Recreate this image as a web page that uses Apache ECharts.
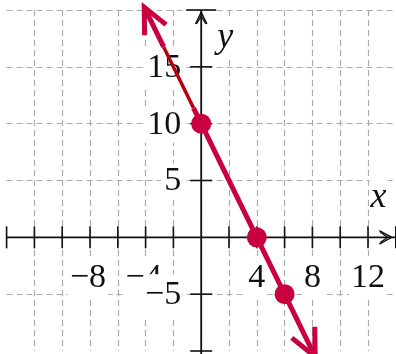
<!DOCTYPE html>
<html>
<head>
<meta charset="utf-8">
<style>
  html, body { margin: 0; padding: 0; background: #fff; }
  #chart { width: 396px; height: 354px; }
</style>
<script src="https://cdn.jsdelivr.net/npm/echarts@6/dist/echarts.min.js"></script>
</head>
<body>
<div id="chart"></div>
<script>
// Line y = -2.5x + 10, listed point by point (ends carry the arrowheads)
const lineX = [-4.1, 0, 4, 6, 8.2];
const lineY = [20.25, 10, 0, -5, -10.5];
// Stretch of the line drawn in a darker, thinner red
const darkX = [-2.7, -0.55];
const darkY = [16.75, 11.375];
// Plotted points
const pointX = [0, 4, 6];
const pointY = [10, 0, -5];
// Axis ticks and their labels
const xTickValues = [-14, -12, -10, -8, -6, -4, -2, 2, 4, 6, 8, 10, 12, 14];
const yTickValues = [20, 15, 10, 5, -5, -10];
const xLabelValues = [-8, -4, 4, 8, 12];
const xLabelTexts = ['\u22128', '\u22124', '4', '8', '12'];
const yLabelValues = [15, 10, 5, -5];
const yLabelTexts = ['15', '10', '5', '\u22125'];

const RED = '#c8003f';
const DARK = '#b3000f';
const FONT = '"Liberation Serif", "Times New Roman", serif';

function pairs(xs, ys) { return xs.map((x, i) => [x, ys[i]]); }

const upperPart = pairs([lineX[0], darkX[0]], [lineY[0], darkY[0]]);
const lowerPart = pairs([darkX[1]].concat(lineX.slice(1)), [darkY[1]].concat(lineY.slice(1)));

function chevron(tip, dir, len, ang, width, color) {
  // open arrowhead: two arms pointing back from the tip
  const back = Math.atan2(-dir[1], -dir[0]);
  const pts = [];
  [ang, -ang].forEach(a => {
    pts.push([tip[0] + len * Math.cos(back + a), tip[1] + len * Math.sin(back + a)]);
  });
  return {
    type: 'polyline',
    shape: { points: [pts[0], tip, pts[1]] },
    style: { stroke: color, lineWidth: width, fill: null, lineJoin: 'miter' }
  };
}

function renderFrame(params, api) {
  const c = (x, y) => api.coord([x, y]);
  const kids = [];
  const o = c(0, 0);
  const axisStyle = { stroke: '#111', lineWidth: 1.8 };
  // x axis
  const xl = c(-14, 0), xr = c(14, 0);
  kids.push({ type: 'line', shape: { x1: xl[0], y1: xl[1], x2: xr[0], y2: xr[1] }, style: axisStyle });
  // y axis
  const yt = c(0, 20), yb = c(0, -10.6);
  kids.push({ type: 'line', shape: { x1: yt[0], y1: yt[1], x2: yb[0], y2: yb[1] }, style: axisStyle });
  // crossing ticks
  xTickValues.forEach(v => {
    const p = c(v, 0);
    kids.push({ type: 'line', shape: { x1: p[0], y1: p[1] - 11, x2: p[0], y2: p[1] + 11 }, style: { stroke: '#111', lineWidth: 1.6 } });
  });
  yTickValues.forEach(v => {
    const p = c(0, v);
    const h = v === 20 ? 15 : 11;
    kids.push({ type: 'line', shape: { x1: p[0] - h, y1: p[1], x2: p[0] + h, y2: p[1] }, style: { stroke: '#111', lineWidth: 1.6 } });
  });
  // axis arrowheads
  const xa = c(13.7, 0);
  kids.push(chevron([xa[0], xa[1]], [1, 0], 14, 0.5, 1.5, '#111'));
  kids.push(chevron([xa[0] - 4, xa[1]], [1, 0], 9, 0.6, 1.3, '#111'));
  const ya = c(0, 19.8);
  kids.push(chevron([ya[0], ya[1]], [0, -1], 13, 0.45, 1.5, '#111'));
  kids.push(chevron([ya[0], ya[1] + 4], [0, -1], 9, 0.55, 1.3, '#111'));

  // x tick labels
  xLabelValues.forEach((v, i) => {
    const p = c(v, 0);
    kids.push({
      type: 'text',
      style: {
        text: xLabelTexts[i], x: p[0] - (v < 0 ? 2 : 0), y: p[1] + 41,
        align: 'center', verticalAlign: 'middle',
        fontFamily: FONT, fontSize: 34, fill: '#111',
        backgroundColor: '#fff', padding: [0, 2, 4, 2]
      }
    });
  });
  // y tick labels
  yLabelValues.forEach((v, i) => {
    const p = c(0, v);
    kids.push({
      type: 'text',
      style: {
        text: yLabelTexts[i], x: p[0] - 19, y: p[1] + 1,
        align: 'right', verticalAlign: 'middle',
        fontFamily: FONT, fontSize: 34, fill: '#111',
        backgroundColor: '#fff', padding: v < 0 ? [6, 1, 2, 1] : [1, 1, 1, 3]
      }
    });
  });
  // axis names
  kids.push({
    type: 'text',
    style: {
      text: 'x', x: c(12.75, 0)[0], y: o[1] - 40, align: 'center', verticalAlign: 'middle',
      fontFamily: FONT, fontSize: 36, fontStyle: 'italic', fill: '#111',
      backgroundColor: '#fff', padding: [0, 1, 0, 1]
    }
  });
  kids.push({
    type: 'text',
    style: {
      text: 'y', x: o[0] + 24, y: c(0, 20)[1] + 28, align: 'center', verticalAlign: 'middle',
      fontFamily: FONT, fontSize: 36, fontStyle: 'italic', fill: '#111',
      backgroundColor: '#fff', padding: [0, 1, 0, 1]
    }
  });
  return { type: 'group', children: kids };
}

function renderArrows(params, api) {
  const n = lineX.length;
  const tipA = api.coord([lineX[0], lineY[0]]);
  const nextA = api.coord([lineX[1], lineY[1]]);
  const tipB = api.coord([lineX[n - 1], lineY[n - 1]]);
  const prevB = api.coord([lineX[n - 2], lineY[n - 2]]);
  const dirA = [tipA[0] - nextA[0], tipA[1] - nextA[1]];
  const dirB = [tipB[0] - prevB[0], tipB[1] - prevB[1]];
  return {
    type: 'group',
    children: [
      chevron(tipA, dirA, 28, 0.44, 5, RED),
      chevron(tipB, dirB, 30, 0.44, 5, RED)
    ]
  };
}

const chart = echarts.init(document.getElementById('chart'), null, { renderer: 'canvas' });
const gridLine = { color: '#ababab', width: 1.2, type: [6, 4] };
chart.setOption({
  animation: false,
  backgroundColor: '#fff',
  grid: { left: 6.6, top: 10, width: 389.2, height: 341, outerBoundsMode: 'none', containLabel: false },
  xAxis: {
    type: 'value', min: -14, max: 14, interval: 2,
    axisLine: { show: false }, axisTick: { show: false }, axisLabel: { show: false },
    splitLine: { show: true, showMinLine: false, showMaxLine: false, lineStyle: gridLine }
  },
  yAxis: {
    type: 'value', min: -10, max: 20, interval: 5,
    axisLine: { show: false }, axisTick: { show: false }, axisLabel: { show: false },
    splitLine: { show: true, showMinLine: false, showMaxLine: true, lineStyle: gridLine }
  },
  series: [
    { type: 'custom', renderItem: renderFrame, data: [[0, 0]], clip: false, silent: true, z: 2 },
    {
      type: 'line', data: upperPart, symbol: 'none', z: 3, clip: false,
      lineStyle: { color: RED, width: 5 }
    },
    {
      type: 'line', data: pairs(darkX, darkY), symbol: 'none', z: 3, clip: false,
      lineStyle: { color: DARK, width: 3.5 }
    },
    {
      type: 'line', data: lowerPart, symbol: 'none', z: 3, clip: false,
      lineStyle: { color: RED, width: 5 }
    },
    { type: 'custom', renderItem: renderArrows, data: [[0, 0]], clip: false, silent: true, z: 4 },
    {
      type: 'scatter', data: pairs(pointX, pointY), symbol: 'circle', symbolSize: 20, z: 5,
      itemStyle: { color: RED, opacity: 1 }
    }
  ]
});
</script>
</body>
</html>
